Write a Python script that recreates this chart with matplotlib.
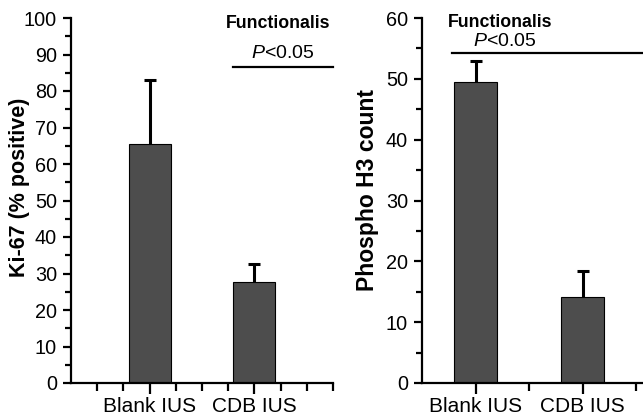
import numpy as np
import matplotlib.pyplot as plt
from matplotlib.ticker import MultipleLocator, FixedLocator

plt.rcParams['font.family'] = ['Liberation Sans', 'DejaVu Sans']
plt.rcParams['mathtext.fontset'] = 'custom'
plt.rcParams['mathtext.rm'] = 'Liberation Sans'
plt.rcParams['mathtext.it'] = 'Liberation Sans:italic'

groups = ['Blank IUS', 'CDB IUS']
ki67 = [65.5, 27.7]
ki67_err = [17.5, 4.8]
ph3 = [49.5, 14.2]
ph3_err = [3.5, 4.2]

bar_color = '#4d4d4d'

fig = plt.figure(figsize=(6.43, 4.18), dpi=100)

def style(ax):
    for s in ['top', 'right']:
        ax.spines[s].set_visible(False)
    for s in ['left', 'bottom']:
        ax.spines[s].set_linewidth(1.6)
    ax.tick_params(which='major', direction='out', length=6, width=1.6, labelsize=14.3, pad=4)
    ax.tick_params(which='minor', direction='out', length=4, width=1.6)
    ax.tick_params(axis='x', which='major', length=8, labelsize=15, pad=2)
    ax.tick_params(axis='x', which='minor', length=6)

def bars(ax, x, vals, errs, w):
    ax.bar(x, vals, width=w, color=bar_color, edgecolor='black', linewidth=0.8, zorder=2)
    eb = ax.errorbar(x, vals, yerr=[[0] * len(errs), errs], fmt='none', ecolor='black',
                     elinewidth=2.2, capsize=4, capthick=2.2, zorder=3)
    eb[1][0].set_visible(False)

# left panel
ax1 = fig.add_axes([71/643, 35/418, 262/643, 365/418])
x1 = [3, 7]
bars(ax1, x1, ki67, ki67_err, 1.6)
ax1.set_xlim(0, 10)
ax1.set_ylim(0, 100)
ax1.set_xticks(x1)
ax1.set_xticklabels(groups)
ax1.xaxis.set_minor_locator(FixedLocator([1, 2, 4, 5, 6, 8, 9, 10]))
ax1.yaxis.set_major_locator(MultipleLocator(10))
ax1.yaxis.set_minor_locator(MultipleLocator(5))
style(ax1)
ax1.text(-0.198, 0.536, 'Ki-67 (% positive)', transform=ax1.transAxes, rotation=90,
         fontsize=15.5, fontweight='bold', ha='center', va='center')
ax1.text(7.9, 98.4, 'Functionalis', fontsize=12.8, fontweight='bold', ha='center', va='center')
ax1.text(8.1, 90.4, '$\\it{P}$<0.05', fontsize=14, ha='center', va='center')
ax1.plot([6.2, 10], [86.6, 86.6], color='black', lw=1.6, clip_on=False)

# right panel
ax2 = fig.add_axes([422/643, 35/418, 221/643, 365/418])
x2 = [1, 3]
bars(ax2, x2, ph3, ph3_err, 0.8)
ax2.set_xlim(0, 221/53.5)
ax2.set_ylim(0, 60)
ax2.set_xticks(x2)
ax2.set_xticklabels(groups)
ax2.xaxis.set_minor_locator(FixedLocator([2, 4]))
ax2.yaxis.set_major_locator(MultipleLocator(10))
ax2.yaxis.set_minor_locator(MultipleLocator(5))
style(ax2)
ax2.text(-0.247, 0.53, 'Phospho H3 count', transform=ax2.transAxes, rotation=90,
         fontsize=16.5, fontweight='bold', ha='center', va='center')
ax2.text(1.46, 59.3, 'Functionalis', fontsize=12.8, fontweight='bold', ha='center', va='center')
ax2.text(1.55, 56.1, '$\\it{P}$<0.05', fontsize=14, ha='center', va='center')
ax2.plot([0.56, 221/53.5], [54.2, 54.2], color='black', lw=1.6, clip_on=False)

fig.savefig('out.png', dpi=100)
